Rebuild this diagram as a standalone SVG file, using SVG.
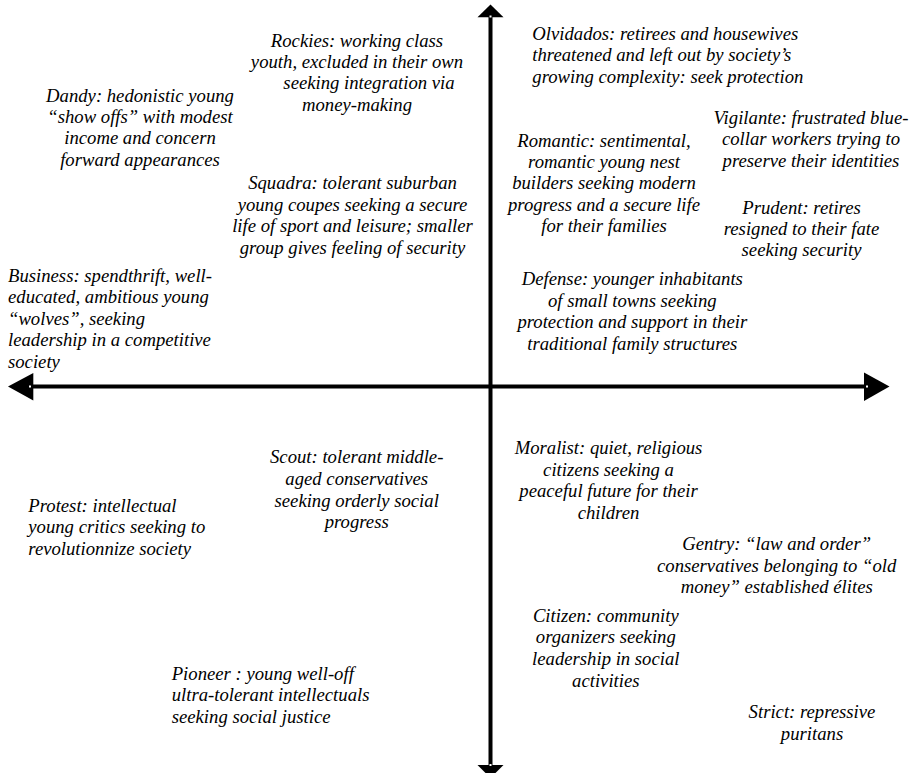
<svg xmlns="http://www.w3.org/2000/svg" width="915" height="773" viewBox="0 0 915 773">
  <style>
    text { font-family: "Liberation Serif", "Times New Roman", serif; font-style: italic; font-size: 18.7px; fill: #000; }
    .c { text-anchor: middle; }
    .axis { stroke: #000; stroke-width: 4; fill: none; }
    .head { fill: #000; stroke: none; }
    .notch { fill: #fff; }
  </style>
  <rect width="915" height="773" fill="#fff"/>

  <!-- axes -->
  <g id="axes">
    <line class="axis" x1="490.5" y1="16" x2="490.5" y2="766"/>
    <line class="axis" x1="32" y1="386.5" x2="865" y2="386.5"/>
    <polygon class="head" points="490.5,4.5 477.5,17.3 503.5,17.3"/>
    <polygon class="head" points="490.5,778 477.5,765 503.5,765"/>
    <polygon class="head" points="8,386.5 33.3,373 33.3,400.5"/>
    <polygon class="head" points="889.5,386.5 864,372.5 864,401"/>
    <rect class="notch" x="489.5" y="15.5" width="2" height="2"/>
    <rect class="notch" x="489.5" y="764" width="2" height="2"/>
    <rect class="notch" x="29" y="385.5" width="2" height="2"/>
    <rect class="notch" x="866" y="385.5" width="2" height="2"/>
  </g>

  <!-- upper left quadrant -->
  <g id="rockies">
    <text class="c" x="357" y="46.7">Rockies: working class</text>
    <text class="c" x="357" y="68">youth, excluded in their own</text>
    <text class="c" x="369" y="89.3">seeking integration via</text>
    <text class="c" x="357" y="110.7">money-making</text>
  </g>
  <g id="dandy">
    <text class="c" x="140" y="101.7">Dandy: hedonistic young</text>
    <text class="c" x="140" y="123">“show offs” with modest</text>
    <text class="c" x="140" y="144.3">income and concern</text>
    <text class="c" x="140" y="165.7">forward appearances</text>
  </g>
  <g id="squadra">
    <text class="c" x="352.5" y="189">Squadra: tolerant suburban</text>
    <text class="c" x="352.5" y="210.5">young coupes seeking a secure</text>
    <text class="c" x="352.5" y="232">life of sport and leisure; smaller</text>
    <text class="c" x="352.5" y="253.5">group gives feeling of security</text>
  </g>
  <g id="business">
    <text x="8" y="281.7">Business: spendthrift, well-</text>
    <text x="8" y="303">educated, ambitious young</text>
    <text x="8" y="324.5">“wolves”, seeking</text>
    <text x="8" y="346">leadership in a competitive</text>
    <text x="8" y="367.5">society</text>
  </g>

  <!-- upper right quadrant -->
  <g id="olvidados">
    <text x="532.3" y="39.7">Olvidados: retirees and housewives</text>
    <text x="532.3" y="61">threatened and left out by society’s</text>
    <text x="532.3" y="82.5">growing complexity: seek protection</text>
  </g>
  <g id="vigilante">
    <text class="c" x="811" y="124">Vigilante: frustrated blue-</text>
    <text class="c" x="811" y="145.3">collar workers trying to</text>
    <text class="c" x="811" y="166.7">preserve their identities</text>
  </g>
  <g id="romantic">
    <text class="c" x="604" y="146.5">Romantic: sentimental,</text>
    <text class="c" x="604" y="167.9">romantic young nest</text>
    <text class="c" x="604" y="189.3">builders seeking modern</text>
    <text class="c" x="604" y="210.7">progress and a secure life</text>
    <text class="c" x="604" y="232">for their families</text>
  </g>
  <g id="prudent">
    <text class="c" x="801.5" y="213.5">Prudent: retires</text>
    <text class="c" x="801.5" y="235">resigned to their fate</text>
    <text class="c" x="801.5" y="256.3">seeking security</text>
  </g>
  <g id="defense">
    <text class="c" x="632.3" y="285">Defense: younger inhabitants</text>
    <text class="c" x="632.3" y="306.7">of small towns seeking</text>
    <text class="c" x="632.3" y="328.3">protection and support in their</text>
    <text class="c" x="632.3" y="350">traditional family structures</text>
  </g>

  <!-- lower left quadrant -->
  <g id="scout">
    <text class="c" x="356.7" y="463.3">Scout: tolerant middle-</text>
    <text class="c" x="356.7" y="485">aged conservatives</text>
    <text class="c" x="356.7" y="506.7">seeking orderly social</text>
    <text class="c" x="356.7" y="528.3">progress</text>
  </g>
  <g id="protest">
    <text x="28.3" y="511.7">Protest: intellectual</text>
    <text x="28.3" y="533.3">young critics seeking to</text>
    <text x="28.3" y="555">revolutionnize society</text>
  </g>
  <g id="pioneer">
    <text x="171.7" y="679.5">Pioneer : young well-off</text>
    <text x="171.7" y="701.2">ultra-tolerant intellectuals</text>
    <text x="171.7" y="722.8">seeking social justice</text>
  </g>

  <!-- lower right quadrant -->
  <g id="moralist">
    <text class="c" x="608.5" y="454">Moralist: quiet, religious</text>
    <text class="c" x="608.5" y="475.7">citizens seeking a</text>
    <text class="c" x="608.5" y="497.3">peaceful future for their</text>
    <text class="c" x="608.5" y="519">children</text>
  </g>
  <g id="gentry">
    <text class="c" x="776.7" y="550">Gentry: “law and order”</text>
    <text class="c" x="776.7" y="571.7">conservatives belonging to “old</text>
    <text class="c" x="776.7" y="593.3">money” established élites</text>
  </g>
  <g id="citizen">
    <text class="c" x="605.8" y="621.7">Citizen: community</text>
    <text class="c" x="605.8" y="643.3">organizers seeking</text>
    <text class="c" x="605.8" y="665">leadership in social</text>
    <text class="c" x="605.8" y="686.5">activities</text>
  </g>
  <g id="strict">
    <text class="c" x="812" y="718.3">Strict: repressive</text>
    <text class="c" x="812" y="740">puritans</text>
  </g>
</svg>
